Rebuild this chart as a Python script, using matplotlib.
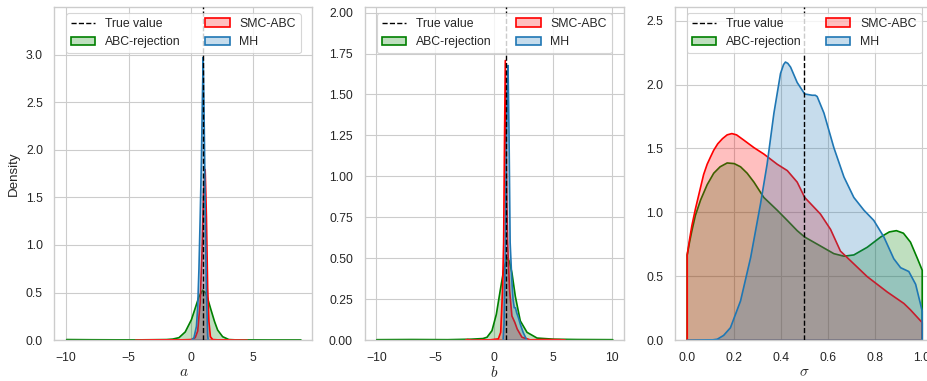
import matplotlib
matplotlib.use("Agg")
import matplotlib.pyplot as plt
from matplotlib.colors import to_rgba
import seaborn as sns

sns.set_theme(style="whitegrid", context="paper")
plt.rcParams['font.family'] = ['Liberation Sans', 'DejaVu Sans']
plt.rcParams['mathtext.fontset'] = 'cm'

# valeurs vraies
true_a = 1.0
true_b = 1.0
true_sigma = 0.5

# --- parametre a : densites ---
abc_a_x = [-10, -8, -6, -4, -2, -1.5, -1.0, -0.5, 0.0, 0.3, 0.6, 0.9, 1.15, 1.35, 1.55, 1.85, 2.1, 2.5, 3.0, 4, 6, 8.8]
abc_a_y = [0.01, 0.008, 0.007, 0.007, 0.01, 0.015, 0.03, 0.09, 0.22, 0.34, 0.46, 0.53, 0.50, 0.42, 0.33, 0.2, 0.11, 0.04, 0.01, 0.004, 0.003, 0.003]
smc_a_x = [-4.5, -3, -1, 0.0, 0.3, 0.5, 0.7, 0.85, 0.97, 1.1, 1.2, 1.3, 1.4, 1.52, 1.7, 2.5, 4.5]
smc_a_y = [0.0, 0.004, 0.006, 0.01, 0.03, 0.1, 0.4, 0.95, 1.55, 1.8, 1.3, 0.55, 0.2, 0.04, 0.01, 0.004, 0.0]
mh_a_x = [0.0, 0.2, 0.4, 0.5, 0.6, 0.7, 0.8, 0.87, 0.94, 1.0, 1.06, 1.12, 1.2, 1.3, 1.35]
mh_a_y = [0.0, 0.03, 0.15, 0.35, 0.75, 1.3, 1.9, 2.5, 2.98, 2.5, 1.9, 1.2, 0.5, 0.05, 0.0]

# --- parametre b ---
abc_b_x = [-10, -7, -4, -2, -1, -0.66, -0.24, 0.13, 0.47, 0.8, 1.08, 1.25, 1.46, 1.74, 2.16, 2.73, 3.58, 5, 7, 10]
abc_b_y = [0.005, 0.006, 0.005, 0.008, 0.012, 0.02, 0.06, 0.16, 0.31, 0.45, 0.505, 0.48, 0.41, 0.27, 0.12, 0.05, 0.015, 0.008, 0.006, 0.005]
smc_b_x = [-2.5, -2.3, -2.0, -0.5, 0.3, 0.5, 0.65, 0.75, 0.82, 0.89, 0.97, 1.02, 1.08, 1.25, 1.45, 1.7, 1.9, 2.3, 3.0, 4.0, 5.5, 6.0]
smc_b_y = [0.0, 0.006, 0.0, 0.003, 0.01, 0.05, 0.3, 0.6, 1.2, 1.71, 1.2, 0.85, 0.61, 0.31, 0.15, 0.11, 0.07, 0.02, 0.004, 0.006, 0.005, 0.0]
mh_b_x = [0.7, 0.78, 0.88, 0.97, 1.05, 1.12, 1.2, 1.3, 1.45, 1.55, 1.65, 1.75, 1.85, 2.0, 2.16, 2.4, 2.73]
mh_b_y = [0.0, 0.1, 0.5, 1.1, 1.5, 1.68, 1.3, 0.6, 0.36, 0.25, 0.2, 0.2, 0.17, 0.14, 0.10, 0.05, 0.0]

# --- parametre sigma ---
abc_s_x = [0.0, 0.01, 0.02, 0.035, 0.057, 0.085, 0.113, 0.14, 0.17, 0.2, 0.227, 0.255, 0.284, 0.326, 0.383, 0.426,
           0.468, 0.5, 0.567, 0.624, 0.667, 0.709, 0.766, 0.823, 0.86, 0.89, 0.92, 0.95, 0.98, 1.0]
abc_s_y = [0.67, 0.77, 0.86, 0.98, 1.10, 1.22, 1.31, 1.36, 1.39, 1.385, 1.36, 1.31, 1.24, 1.12, 1.02, 0.94,
           0.86, 0.81, 0.74, 0.68, 0.66, 0.67, 0.73, 0.81, 0.85, 0.86, 0.84, 0.77, 0.64, 0.55]
smc_s_x = [0.0, 0.01, 0.02, 0.035, 0.057, 0.07, 0.085, 0.1, 0.113, 0.13, 0.15, 0.17, 0.19, 0.21, 0.24, 0.284,
           0.326, 0.383, 0.426, 0.468, 0.5, 0.567, 0.61, 0.652, 0.709, 0.766, 0.851, 0.922, 0.95, 0.975, 1.0]
smc_s_y = [0.67, 0.79, 0.9, 1.03, 1.2, 1.3, 1.38, 1.44, 1.49, 1.54, 1.58, 1.61, 1.62, 1.61, 1.57, 1.51,
           1.46, 1.38, 1.33, 1.24, 1.12, 0.99, 0.87, 0.70, 0.60, 0.50, 0.38, 0.29, 0.24, 0.19, 0.14]
mh_s_x = [0.0, 0.1, 0.128, 0.155, 0.184, 0.227, 0.27, 0.312, 0.34, 0.369, 0.397, 0.41, 0.418, 0.428, 0.44, 0.468,
          0.5, 0.532, 0.545, 0.553, 0.582, 0.624, 0.667, 0.709, 0.752, 0.794, 0.837, 0.879, 0.908, 0.943, 0.972, 1.0]
mh_s_y = [0.0, 0.003, 0.01, 0.04, 0.10, 0.31, 0.65, 1.07, 1.38, 1.78, 2.09, 2.16, 2.18, 2.17, 2.14, 2.02,
          1.93, 1.92, 1.92, 1.91, 1.78, 1.51, 1.28, 1.12, 1.02, 0.94, 0.81, 0.64, 0.57, 0.54, 0.44, 0.23]

couleurs = {'ABC-rejection': 'green', 'SMC-ABC': 'red', 'MH': '#1f77b4'}

panneaux = [
    (true_a, r'$a$', [(abc_a_x, abc_a_y), (smc_a_x, smc_a_y), (mh_a_x, mh_a_y)],
     (-10.94, 9.74), (0, 3.505), [-10, -5, 0, 5], [0, 0.5, 1.0, 1.5, 2.0, 2.5, 3.0]),
    (true_b, r'$b$', [(abc_b_x, abc_b_y), (smc_b_x, smc_b_y), (mh_b_x, mh_b_y)],
     (-11, 11), (0, 2.034), [-10, -5, 0, 5, 10], [0, 0.25, 0.5, 0.75, 1.0, 1.25, 1.5, 1.75, 2.0]),
    (true_sigma, r'$\sigma$', [(abc_s_x, abc_s_y), (smc_s_x, smc_s_y), (mh_s_x, mh_s_y)],
     (-0.05, 1.05), (0, 2.607), [0, 0.2, 0.4, 0.6, 0.8, 1.0], [0, 0.5, 1.0, 1.5, 2.0, 2.5]),
]

fig = plt.figure(figsize=(9.28, 3.81), dpi=100)
rects = [[0.0587, 0.1076, 0.278, 0.874],
         [0.3928, 0.1076, 0.2797, 0.874],
         [0.7273, 0.1076, 0.2786, 0.874]]

for i, (vraie, xlabel, courbes, xlim, ylim, xt, yt) in enumerate(panneaux):
    ax = fig.add_axes(rects[i])
    ax.axvline(vraie, color='black', linestyle='--', linewidth=1, label='True value', zorder=3)
    for (xs, ys), nom in zip(courbes, ['ABC-rejection', 'SMC-ABC', 'MH']):
        c = couleurs[nom]
        ax.fill_between(xs, 0, ys, facecolor=to_rgba(c, 0.25), edgecolor=c,
                        linewidth=1.2, label=nom)
    ax.set_xlim(*xlim)
    ax.set_ylim(*ylim)
    ax.set_xticks(xt)
    ax.set_yticks(yt)
    if i == 2:
        ax.set_xticklabels(['0.0', '0.2', '0.4', '0.6', '0.8', '1.0'])
    ax.set_xlabel(xlabel, fontsize=11, labelpad=1)
    if i == 0:
        ax.set_ylabel('Density')
    ax.legend(loc='upper center', ncol=2)

fig.savefig('out.png', dpi=100)
